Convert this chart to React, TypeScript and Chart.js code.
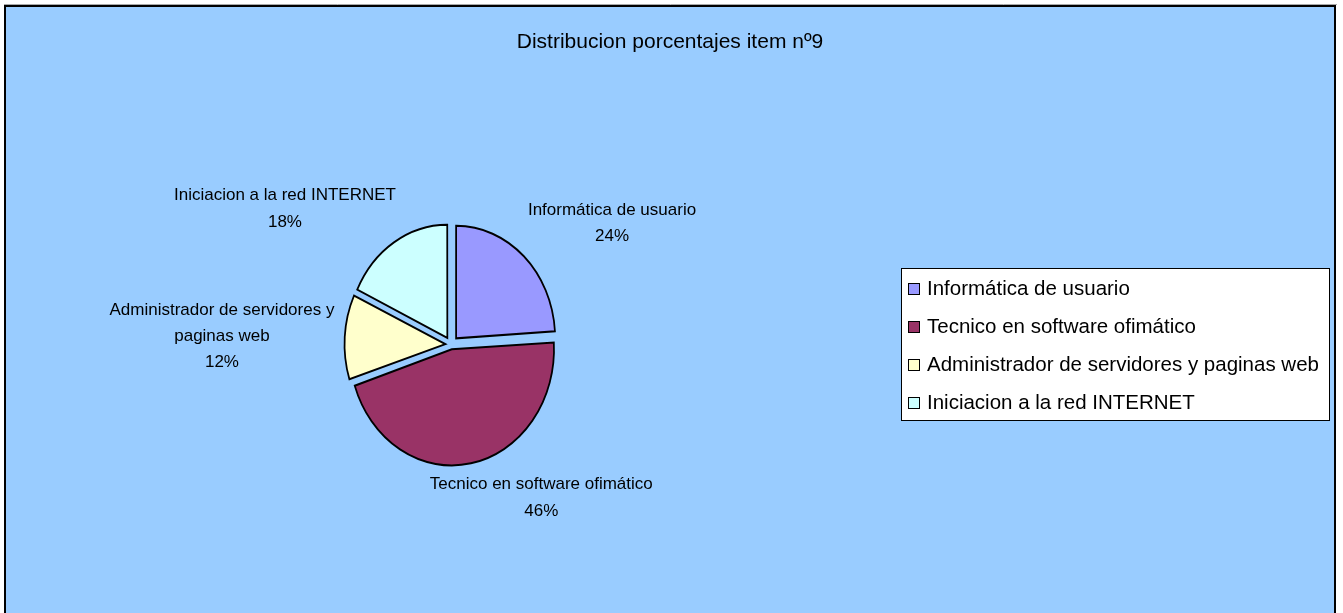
import { useEffect, useRef } from "react";
import { Chart, registerables } from "chart.js";

Chart.register(...registerables);

// ---- data ----
const TITLE = "Distribucion porcentajes item nº9";
const CATEGORIES = [
  "Informática de usuario",
  "Tecnico en software ofimático",
  "Administrador de servidores y paginas web",
  "Iniciacion a la red INTERNET",
];
const PERCENTAGES = [24, 46, 12, 18];
const COLORS = ["#9999FF", "#993366", "#FFFFCC", "#CCFFFF"];

// ---- style ----
const FONT = "'Liberation Sans', Arial, sans-serif";
const W = 1343;
const H = 613;
const EXPLODE = 8.5; // px each slice is pulled out
const PIE_RADIUS = 112.5;
const X_SQUASH = 0.88; // the original pie is drawn slightly elliptical
const LABEL_GAP = 33.5;
const LABEL_LINE = 26.3;
const LABEL_MAX_W = 235;
// fine adjustments of the data-label text boxes (Excel "best fit")
const LABEL_NUDGE: [number, number][] = [
  [15.5, 4.5],
  [45.3, -15.9],
  [11.4, 3.6],
  [-37.7, 9.8],
];

function wrap(ctx: CanvasRenderingContext2D, text: string, maxW: number): string[] {
  const words = text.split(" ");
  const lines: string[] = [];
  let cur = "";
  for (const w of words) {
    const test = cur ? cur + " " + w : w;
    if (cur && ctx.measureText(test).width > maxW) {
      lines.push(cur);
      cur = w;
    } else cur = test;
  }
  if (cur) lines.push(cur);
  return lines;
}

const framePlugin = {
  id: "frame",
  beforeDraw(chart: any) {
    const ctx: CanvasRenderingContext2D = chart.ctx;
    ctx.save();
    ctx.fillStyle = "#ffffff";
    ctx.fillRect(0, 0, W, H);
    ctx.fillStyle = "#99CCFF";
    ctx.fillRect(5, 6, 1330, H);
    ctx.strokeStyle = "#a8a8a8";
    ctx.lineWidth = 1;
    ctx.beginPath();
    ctx.moveTo(4, 4.5);
    ctx.lineTo(1337, 4.5);
    ctx.stroke();
    ctx.strokeStyle = "#000";
    ctx.lineWidth = 2;
    ctx.strokeRect(5, 6, 1330, H + 20);
    ctx.restore();
  },
};

const squashPlugin = {
  id: "squash",
  beforeDatasetsDraw(chart: any) {
    const ctx: CanvasRenderingContext2D = chart.ctx;
    const arc = chart.getDatasetMeta(0).data[0];
    const cx = arc ? arc.x : 0;
    ctx.save();
    ctx.translate(cx, 0);
    ctx.scale(X_SQUASH, 1);
    ctx.translate(-cx, 0);
  },
  afterDatasetsDraw(chart: any) {
    chart.ctx.restore();
  },
};

const overlayPlugin = {
  id: "overlay",
  afterDraw(chart: any) {
    const ctx: CanvasRenderingContext2D = chart.ctx;
    const data: number[] = chart.data.datasets[0].data;
    const labels: string[] = chart.data.labels;
    const colors: string[] = chart.data.datasets[0].backgroundColor;
    const total = data.reduce((a, b) => a + b, 0);
    ctx.save();

    // title
    ctx.fillStyle = "#000";
    ctx.font = `21px ${FONT}`;
    ctx.textAlign = "center";
    ctx.textBaseline = "alphabetic";
    ctx.fillText(TITLE, 670, 48);

    // data labels
    ctx.font = `17px ${FONT}`;
    ctx.textBaseline = "middle";
    const meta = chart.getDatasetMeta(0);
    meta.data.forEach((arc: any, i: number) => {
      const p = arc.getProps(["x", "y", "startAngle", "endAngle", "outerRadius"], true);
      const mid = (p.startAngle + p.endAngle) / 2;
      const dx = Math.cos(mid);
      const dy = Math.sin(mid);
      const lines = wrap(ctx, labels[i], LABEL_MAX_W);
      lines.push(Math.round((data[i] / total) * 100) + "%");
      const w = Math.max(...lines.map((l) => ctx.measureText(l).width));
      const h = lines.length * LABEL_LINE;
      const ax = p.x + X_SQUASH * dx * (p.outerRadius + LABEL_GAP);
      const ay = p.y + dy * (p.outerRadius + LABEL_GAP);
      const cx = ax + (dx * w) / 2 + LABEL_NUDGE[i][0];
      const cy = ay + (dy * h) / 2 + LABEL_NUDGE[i][1];
      const top = cy - h / 2;
      lines.forEach((l, k) => {
        ctx.fillText(l, cx, top + LABEL_LINE / 2 + k * LABEL_LINE);
      });
    });

    // legend
    const LX = 901.5, LY = 268.5, LW = 428, LH = 152, ROW = 38;
    ctx.fillStyle = "#ffffff";
    ctx.fillRect(LX, LY, LW, LH);
    ctx.strokeStyle = "#000";
    ctx.lineWidth = 1;
    ctx.strokeRect(LX, LY, LW, LH);
    ctx.font = `20.5px ${FONT}`;
    ctx.textAlign = "left";
    ctx.textBaseline = "middle";
    labels.forEach((lab, i) => {
      const y = LY + 20.5 + i * ROW;
      ctx.fillStyle = colors[i];
      ctx.fillRect(908.5, Math.round(y) - 5.5, 11, 11);
      ctx.strokeStyle = "#000";
      ctx.strokeRect(908.5, Math.round(y) - 5.5, 11, 11);
      ctx.fillStyle = "#000";
      ctx.fillText(lab, 927, y);
    });
    ctx.restore();
  },
};

export default function App() {
  const ref = useRef<HTMLCanvasElement>(null);
  useEffect(() => {
    const canvas = ref.current!;
    const chart = new Chart(canvas, {
      type: "pie",
      data: {
        labels: CATEGORIES,
        datasets: [
          {
            data: PERCENTAGES,
            backgroundColor: COLORS,
            borderColor: "#000",
            borderWidth: 2,
            borderJoinStyle: "miter",
            offset: (c: any) => {
              const arr: number[] = c.dataset.data;
              const tot = arr.reduce((a, b) => a + b, 0);
              const circ = (arr[c.dataIndex] / tot) * Math.PI * 2;
              const fix = 1 - Math.sin(Math.min(Math.PI, circ));
              return (4 * EXPLODE) / (1 + fix);
            },
          } as any,
        ],
      },
      options: {
        responsive: false,
        animation: false,
        radius: PIE_RADIUS,
        events: [],
        layout: { padding: { left: 0, right: 441, top: 76, bottom: 0 } },
        plugins: {
          legend: { display: false },
          title: { display: false },
          tooltip: { enabled: false },
        },
      } as any,
      plugins: [framePlugin, squashPlugin, overlayPlugin],
    });
    return () => chart.destroy();
  }, []);
  return (
    <div style={{ position: "fixed", left: 0, top: 0, width: W, height: H }}>
      <canvas ref={ref} width={W} height={H} style={{ display: "block" }} />
    </div>
  );
}
